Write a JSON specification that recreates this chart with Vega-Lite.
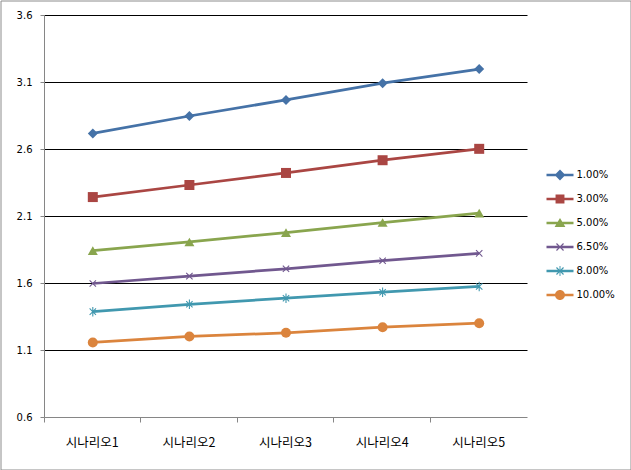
{
  "$schema": "https://vega.github.io/schema/vega-lite/v6.json",
  "width": 630,
  "height": 469,
  "autosize": {"type": "none"},
  "padding": {"left": 0.5, "top": 0.5, "right": 0, "bottom": 0},
  "background": "white",
  "config": {
    "view": {"stroke": "#8c8c8c", "strokeWidth": 1},
    "axis": {"labelColor": "#000000", "titleColor": "#000000", "translate": 0},
    "legend": {
      "title": null,
      "orient": "none",
      "legendX": 546,
      "legendY": 161,
      "symbolSize": 729,
      "symbolStrokeWidth": 0,
      "labelFont": "DejaVu Sans",
      "labelFontSize": 10,
      "labelColor": "#000000",
      "labelOffset": 3,
      "rowPadding": 5
    }
  },
  "data": {
    "values": [
      {"scenario": "시나리오1", "series": "1.00%", "value": 2.72},
      {"scenario": "시나리오2", "series": "1.00%", "value": 2.85},
      {"scenario": "시나리오3", "series": "1.00%", "value": 2.97},
      {"scenario": "시나리오4", "series": "1.00%", "value": 3.095},
      {"scenario": "시나리오5", "series": "1.00%", "value": 3.2},
      {"scenario": "시나리오1", "series": "3.00%", "value": 2.245},
      {"scenario": "시나리오2", "series": "3.00%", "value": 2.335},
      {"scenario": "시나리오3", "series": "3.00%", "value": 2.425},
      {"scenario": "시나리오4", "series": "3.00%", "value": 2.52},
      {"scenario": "시나리오5", "series": "3.00%", "value": 2.605},
      {"scenario": "시나리오1", "series": "5.00%", "value": 1.845},
      {"scenario": "시나리오2", "series": "5.00%", "value": 1.91},
      {"scenario": "시나리오3", "series": "5.00%", "value": 1.98},
      {"scenario": "시나리오4", "series": "5.00%", "value": 2.055},
      {"scenario": "시나리오5", "series": "5.00%", "value": 2.125},
      {"scenario": "시나리오1", "series": "6.50%", "value": 1.6},
      {"scenario": "시나리오2", "series": "6.50%", "value": 1.655},
      {"scenario": "시나리오3", "series": "6.50%", "value": 1.71},
      {"scenario": "시나리오4", "series": "6.50%", "value": 1.77},
      {"scenario": "시나리오5", "series": "6.50%", "value": 1.825},
      {"scenario": "시나리오1", "series": "8.00%", "value": 1.39},
      {"scenario": "시나리오2", "series": "8.00%", "value": 1.445},
      {"scenario": "시나리오3", "series": "8.00%", "value": 1.49},
      {"scenario": "시나리오4", "series": "8.00%", "value": 1.535},
      {"scenario": "시나리오5", "series": "8.00%", "value": 1.578},
      {"scenario": "시나리오1", "series": "10.00%", "value": 1.16},
      {"scenario": "시나리오2", "series": "10.00%", "value": 1.205},
      {"scenario": "시나리오3", "series": "10.00%", "value": 1.232},
      {"scenario": "시나리오4", "series": "10.00%", "value": 1.274},
      {"scenario": "시나리오5", "series": "10.00%", "value": 1.304}
    ]
  },
  "encoding": {
    "x": {
      "field": "scenario",
      "type": "nominal",
      "sort": null,
      "title": null,
      "scale": {"type": "band", "range": [44, 527], "paddingInner": 0, "paddingOuter": 0},
      "axis": {
        "offset": -52,
        "bandPosition": 0,
        "labelAngle": 0,
        "labelFont": "Noto Sans CJK KR",
        "labelFontSize": 12.5,
        "labelPadding": 14,
        "domainColor": "#868686",
        "tickColor": "#868686",
        "tickSize": 5,
        "grid": false
      }
    },
    "y": {
      "field": "value",
      "type": "quantitative",
      "title": null,
      "scale": {"domain": [0.6, 3.6], "range": [417, 15], "nice": false, "zero": false},
      "axis": {
        "offset": -44,
        "values": [0.6, 1.1, 1.6, 2.1, 2.6, 3.1, 3.6],
        "format": ".1f",
        "labelFont": "DejaVu Sans",
        "labelFontSize": 10,
        "labelPadding": 8,
        "domainColor": "#868686",
        "tickColor": "#868686",
        "tickSize": 4,
        "grid": true,
        "gridColor": "#000000",
        "gridWidth": 1,
        "gridOpacity": {"condition": {"test": "datum.value < 0.7", "value": 0}, "value": 1}
      }
    },
    "color": {
      "field": "series",
      "type": "nominal",
      "sort": null,
      "scale": {
        "domain": ["1.00%", "3.00%", "5.00%", "6.50%", "8.00%", "10.00%"],
        "range": ["#4572A7", "#AA4643", "#89A54E", "#71588F", "#4198AF", "#DB843D"]
      },
      "legend": {
        "encode": {
          "symbols": {
            "update": {
              "shape": {"signal": "datum.value === '1.00%' ? 'M-1,-0.093L1,-0.093L1,0.093L-1,0.093Z M0,-0.4L0.4,0L0,0.4L-0.4,0Z' : datum.value === '3.00%' ? 'M-1,-0.093L1,-0.093L1,0.093L-1,0.093Z M-0.33,-0.33L0.33,-0.33L0.33,0.33L-0.33,0.33Z' : datum.value === '5.00%' ? 'M-1,-0.093L1,-0.093L1,0.093L-1,0.093Z M0,-0.37L0.4,0.3L-0.4,0.3Z' : datum.value === '6.50%' ? 'M-1,-0.093L1,-0.093L1,0.093L-1,0.093Z M0.230,-0.293L0.293,-0.230L0.063,0L0.293,0.230L0.230,0.293L0,0.063L-0.230,0.293L-0.293,0.230L-0.063,0L-0.293,-0.230L-0.230,-0.293L0,-0.063Z' : datum.value === '8.00%' ? 'M-1,-0.093L1,-0.093L1,0.093L-1,0.093Z M0.230,-0.293L0.293,-0.230L0.063,0L0.293,0.230L0.230,0.293L0,0.063L-0.230,0.293L-0.293,0.230L-0.063,0L-0.293,-0.230L-0.230,-0.293L0,-0.063Z M-0.035,-0.37L0.035,-0.37L0.035,0.37L-0.035,0.37Z' : 'M-1,-0.093L1,-0.093L1,0.093L-1,0.093Z M0.37,0A0.37,0.37,0,1,1,-0.37,0A0.37,0.37,0,1,1,0.37,0Z'"},
              "fill": {"scale": "color", "field": "value"},
              "stroke": {"value": "transparent"},
              "strokeWidth": {"value": 0},
              "opacity": {"value": 1}
            }
          }
        }
      }
    }
  },
  "layer": [
    {"mark": {"type": "line", "strokeWidth": 2.75}},
    {
      "mark": {"type": "point", "filled": true, "opacity": 1, "size": 100},
      "encoding": {
        "shape": {
          "field": "series",
          "type": "nominal",
          "sort": null,
          "legend": null,
          "scale": {
            "range": [
              "diamond",
              "square",
              "triangle-up",
              "M0.560,-0.713L0.713,-0.560L0.153,0L0.713,0.560L0.560,0.713L0,0.153L-0.560,0.713L-0.713,0.560L-0.153,0L-0.713,-0.560L-0.560,-0.713L0,-0.153Z",
              "M0.560,-0.713L0.713,-0.560L0.153,0L0.713,0.560L0.560,0.713L0,0.153L-0.560,0.713L-0.713,0.560L-0.153,0L-0.713,-0.560L-0.560,-0.713L0,-0.153Z M-0.11,-0.95L0.11,-0.95L0.11,0.95L-0.11,0.95Z",
              "circle"
            ]
          }
        }
      }
    }
  ]
}
